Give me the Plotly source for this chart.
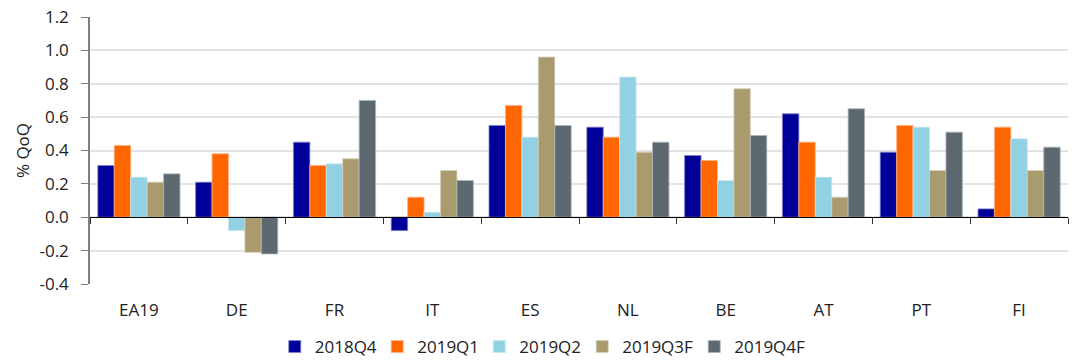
import plotly.graph_objects as go

# Countries (x categories) and quarterly GDP growth, % QoQ
countries = ["EA19", "DE", "FR", "IT", "ES", "NL", "BE", "AT", "PT", "FI"]
q2018q4 = [0.31, 0.21, 0.45, -0.08, 0.55, 0.54, 0.37, 0.62, 0.39, 0.05]
q2019q1 = [0.43, 0.38, 0.31, 0.12, 0.67, 0.48, 0.34, 0.45, 0.55, 0.54]
q2019q2 = [0.24, -0.08, 0.32, 0.03, 0.48, 0.84, 0.22, 0.24, 0.54, 0.47]
q2019q3f = [0.21, -0.21, 0.35, 0.28, 0.96, 0.39, 0.77, 0.12, 0.28, 0.28]
q2019q4f = [0.26, -0.22, 0.70, 0.22, 0.55, 0.45, 0.49, 0.65, 0.51, 0.42]

series = [
    ("2018Q4", q2018q4, "#000099", "#7f7fcc"),
    ("2019Q1", q2019q1, "#ff6600", "#ffb27f"),
    ("2019Q2", q2019q2, "#92d1e3", "#c8e8f1"),
    ("2019Q3F", q2019q3f, "#aa9b6f", "#d4cdb7"),
    ("2019Q4F", q2019q4f, "#5d6971", "#aeb4b8"),
]

y_ticks = [-0.4, -0.2, 0.0, 0.2, 0.4, 0.6, 0.8, 1.0, 1.2]
y_tick_labels = ["-0.4", "-0.2", "0.0", "0.2", "0.4", "0.6", "0.8", "1.0", "1.2"]

# One legend per series so the entries sit in a compact row
legend_ids = ["legend", "legend2", "legend3", "legend4", "legend5"]
legend_x = [0.2556, 0.3509, 0.4458, 0.5416, 0.6458]

fig = go.Figure()
for (name, vals, color, edge), lid in zip(series, legend_ids):
    fig.add_trace(go.Bar(
        name=name, x=countries, y=vals, legend=lid,
        marker=dict(color=color, line=dict(color=edge, width=0.8)),
    ))

# Invisible helper trace so the zero-line category axis (x2) is drawn
fig.add_trace(go.Scatter(
    x=countries, y=[0] * len(countries), xaxis="x2", mode="lines",
    line=dict(width=0), showlegend=False, hoverinfo="skip",
))

font_family = "Open Sans, Noto Sans, DejaVu Sans, sans-serif"
fs = 17

legends = {}
for lid, lx in zip(legend_ids, legend_x):
    legends[lid] = dict(
        orientation="h", xref="container", yref="container",
        x=lx, xanchor="left", y=0.036, yanchor="middle",
        font=dict(size=fs, color="#222222"), itemwidth=30,
        bgcolor="rgba(0,0,0,0)",
    )

fig.update_layout(
    width=1075, height=360,
    margin=dict(l=90, r=7, t=17, b=76, autoexpand=False),
    paper_bgcolor="white", plot_bgcolor="white",
    barmode="group", bargap=0.16, bargroupgap=0.0,
    font=dict(family=font_family, size=fs, color="#222222"),
    showlegend=True,
    xaxis=dict(
        type="category", categoryorder="array", categoryarray=countries,
        showline=False, ticks="", showgrid=False, zeroline=False,
        tickfont=dict(size=fs), ticklabelstandoff=14,
    ),
    xaxis2=dict(
        type="category", categoryorder="array", categoryarray=countries,
        overlaying="x", anchor="free", position=0.25, matches="x",
        showline=True, linecolor="#000000", linewidth=1,
        ticks="outside", tickson="boundaries", ticklen=6, tickcolor="#333333",
        showticklabels=False, showgrid=False, zeroline=False,
    ),
    yaxis=dict(
        range=[-0.4, 1.2], tickvals=y_ticks, ticktext=y_tick_labels,
        showgrid=True, gridcolor="#e3e3e3", gridwidth=1.5,
        zeroline=False,
        showline=True, linecolor="#7f7f7f", linewidth=1.5,
        ticks="outside", ticklen=7, tickcolor="#7f7f7f",
        ticklabelstandoff=9,
        title=dict(text="% QoQ", font=dict(size=fs), standoff=6),
        tickfont=dict(size=fs),
    ),
    **legends,
)

fig.write_html("out.html")
